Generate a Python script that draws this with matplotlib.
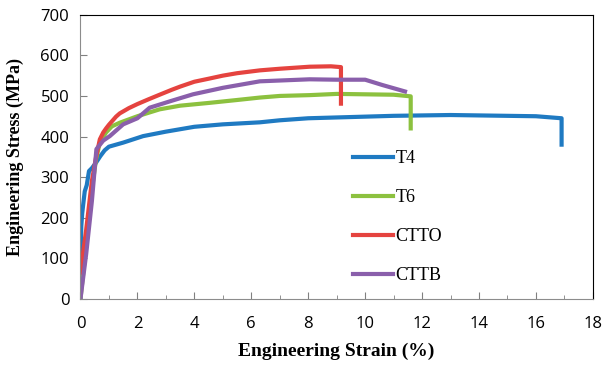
import matplotlib
matplotlib.use("Agg")
import matplotlib.pyplot as plt

# ── Data ──────────────────────────────────────────────────────────────────────
t4_strain = [0.0, 0.01, 0.03, 0.06, 0.1, 0.15, 0.22, 0.3, 0.4, 0.55, 0.7, 0.85, 1.0,
             1.5, 2.2, 3.0, 4.0, 5.0, 6.3, 7.0, 8.0, 9.0, 10.0, 11.0, 12.0, 13.0,
             14.0, 15.0, 16.0, 16.9, 16.9]
t4_stress = [0, 120, 180, 210, 235, 265, 280, 315, 322, 336, 352, 366, 375,
             385, 401, 412, 424, 430, 435, 440, 445, 447, 449, 451, 452, 453,
             452, 451, 450, 445, 380]

t6_strain = [0.0, 0.2, 0.4, 0.55, 0.68, 0.9, 1.1, 1.38, 2.0, 2.78, 3.5, 4.54, 5.5,
             6.3, 7.0, 8.05, 9.0, 10.0, 11.0, 11.6, 11.6]
t6_stress = [0, 130, 270, 345, 385, 410, 425, 434, 450, 467, 476, 483, 490,
             496, 500, 502, 505, 504, 503, 499, 420]

ctto_strain = [0.0, 0.2, 0.4, 0.55, 0.68, 0.8, 0.9, 1.0, 1.1, 1.25, 1.38, 1.7, 2.0,
               2.4, 2.78, 3.2, 3.5, 4.0, 4.54, 5.0, 5.5, 6.3, 7.0, 8.05, 8.8,
               9.15, 9.15]
ctto_stress = [65, 170, 290, 350, 393, 410, 420, 429, 437, 449, 457, 470, 480,
               492, 503, 515, 523, 535, 543, 550, 556, 563, 567, 572, 573,
               571, 481]

cttb_strain = [0.0, 0.2, 0.4, 0.56, 0.8, 1.03, 1.5, 2.0, 2.43, 3.2, 3.95, 5.0,
               6.3, 7.0, 8.05, 9.0, 10.0, 10.6, 11.4]
cttb_stress = [0, 110, 240, 369, 390, 401, 430, 445, 471, 488, 504, 520,
               536, 538, 541, 540, 540, 527, 511]

series = [
    ("T4", t4_strain, t4_stress, "#1f7ac2"),
    ("T6", t6_strain, t6_stress, "#8cc13f"),
    ("CTTO", ctto_strain, ctto_stress, "#e5433f"),
    ("CTTB", cttb_strain, cttb_stress, "#8a5fab"),
]

fig = plt.figure(figsize=(6.05, 3.69), dpi=100)
ax = fig.add_axes([0.133, 0.19, 0.847, 0.77])

for name, x, y, c in series:
    ax.plot(x, y, color=c, lw=3, label=name, solid_joinstyle="round")

ax.set_xlim(0, 18)
ax.set_ylim(0, 700)
ax.set_xticks(range(0, 19, 2))
ax.set_xticks(range(0, 19), minor=True)
ax.set_yticks(range(0, 701, 100))

for lab in ax.get_xticklabels() + ax.get_yticklabels():
    lab.set_fontfamily("Open Sans")
    lab.set_fontsize(12)

ax.tick_params(axis="both", which="both", direction="in", color="#808080")
ax.tick_params(axis="x", which="major", length=5, pad=12)
ax.tick_params(axis="x", which="minor", length=3)
ax.tick_params(axis="y", which="major", length=5, pad=8)

ax.spines["left"].set_color("#8c8c8c")
ax.spines["bottom"].set_color("#8c8c8c")
ax.spines["top"].set_color("black")
ax.spines["right"].set_color("black")

ax.set_xlabel("Engineering Strain (%)", family="Liberation Serif", size=14,
              weight="bold", labelpad=8)
ax.set_ylabel("Engineering Stress (MPa)", family="Liberation Serif", size=13,
              weight="bold")
ax.yaxis.set_label_coords(-0.11, 0.5)

ax.legend(loc="upper left", bbox_to_anchor=(0.5, 0.58), frameon=False,
          prop=dict(family="Liberation Serif", size=13),
          handlelength=2.2, labelspacing=1.22, handletextpad=0.15)

fig.savefig("out.png", dpi=100)
